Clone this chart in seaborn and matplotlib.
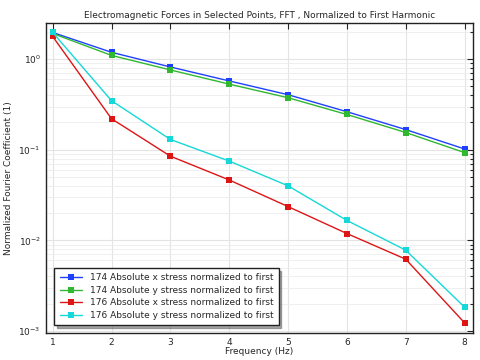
import numpy as np
import pandas as pd
import matplotlib
matplotlib.use("Agg")
import matplotlib.pyplot as plt
import seaborn as sns
from matplotlib.ticker import LogLocator, NullFormatter

# ── Data ──────────────────────────────────────────────────────
freq = [1, 2, 3, 4, 5, 6, 7, 8]
p174_x = [1.97, 1.19, 0.82, 0.575, 0.405, 0.263, 0.167, 0.102]
p174_y = [1.92, 1.10, 0.76, 0.53, 0.375, 0.245, 0.155, 0.093]
p176_x = [1.78, 0.22, 0.085, 0.0464, 0.0236, 0.0119, 0.0062, 0.00123]
p176_y = [1.97, 0.348, 0.13, 0.075, 0.040, 0.0166, 0.0078, 0.00183]

labels = [
    "174 Absolute x stress normalized to first",
    "174 Absolute y stress normalized to first",
    "176 Absolute x stress normalized to first",
    "176 Absolute y stress normalized to first",
]
colors = ["#2040ff", "#30b830", "#dd1515", "#15d8d8"]

df = pd.concat([
    pd.DataFrame({"freq": freq, "val": v, "series": lab})
    for v, lab in zip([p174_x, p174_y, p176_x, p176_y], labels)
])

sns.set_style("white")
plt.rcParams["font.family"] = ["DejaVu Sans"]

fig, ax = plt.subplots(figsize=(4.8, 3.6), dpi=100)
sns.lineplot(data=df, x="freq", y="val", hue="series", palette=colors,
             marker="s", markersize=4, markeredgewidth=0, linewidth=1,
             ax=ax, legend=True)

ax.set_yscale("log")
ax.set_xlim(0.88, 8.14)
ax.set_ylim(9.5e-4, 2.48)
ax.set_xticks(freq)
ax.yaxis.set_major_locator(LogLocator(base=10, numticks=10))
ax.yaxis.set_minor_locator(LogLocator(base=10, subs=np.arange(2, 10), numticks=10))
ax.yaxis.set_minor_formatter(NullFormatter())

ax.grid(True, which="major", color="#e4e4e4", lw=0.8)
ax.grid(True, which="minor", axis="y", color="#ececec", lw=0.6)
ax.tick_params(which="both", direction="in", top=True, right=True,
               labelsize=6.5, length=4, width=0.8)
ax.tick_params(which="minor", length=2.5)
for s in ax.spines.values():
    s.set_color("#222222"); s.set_linewidth(1)

ax.set_title("Electromagnetic Forces in Selected Points, FFT , Normalized to First Harmonic",
             fontsize=6.5, pad=4)
ax.set_xlabel("Frequency (Hz)", fontsize=6.5, labelpad=0)
ax.set_ylabel("Normalized Fourier Coefficient (1)", fontsize=6.5, labelpad=4)

leg = ax.legend(loc="lower left", bbox_to_anchor=(0.01, 0.01), fontsize=6.5,
                frameon=True, fancybox=False, shadow={"color": "#555555"},
                title=None, handlelength=2.5, borderpad=0.6, labelspacing=0.4)
leg.get_frame().set_edgecolor("#222222")
leg.get_frame().set_linewidth(1)
leg.get_frame().set_alpha(1)

plt.subplots_adjust(left=0.095, right=0.985, top=0.935, bottom=0.075)
plt.savefig("out.png", dpi=100)
plt.close()
